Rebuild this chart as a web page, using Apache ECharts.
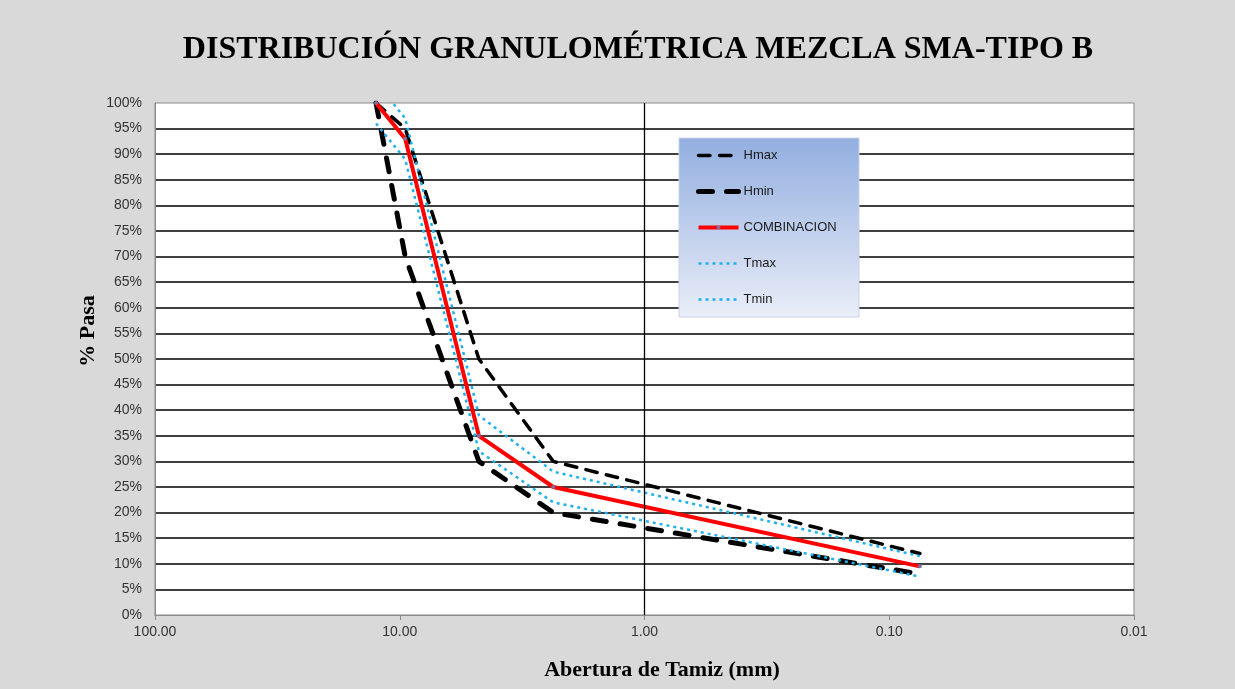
<!DOCTYPE html>
<html><head><meta charset="utf-8">
<script src="https://cdn.jsdelivr.net/npm/echarts@6/dist/echarts.min.js"></script>
<style>html,body{margin:0;padding:0;background:#d9d9d9}#c{width:1235px;height:689px}</style>
</head><body><div id="c"></div>
<script>
// Sieve openings (mm) and % passing
const sieves = [12.5, 9.5, 4.75, 2.36, 0.075];
const hmax = [100, 95, 50, 30, 12];
const hmin = [100, 70, 30, 20, 8];
const combinacion = [100, 93, 35, 25, 9.5];
const tmax = [104, 97, 39, 28, 11.5];
const tmin = [96, 89, 32, 22, 7.5];
const seriesNames = ['Hmax', 'Hmin', 'COMBINACION', 'Tmax', 'Tmin'];
const titleText = 'DISTRIBUCIÓN GRANULOMÉTRICA MEZCLA SMA-TIPO B';
const yName = '% Pasa';
const xName = 'Abertura de Tamiz (mm)';
const xCrossAt = 1;

const pts = ys => sieves.map((s, i) => [s, ys[i]]);
const serif = "'Liberation Serif','Times New Roman',serif";
const sans = "'Liberation Sans',Arial,sans-serif";
const blue = '#1fb0ee';

const chart = echarts.init(document.getElementById('c'));
chart.setOption({
  animation: false,
  backgroundColor: '#d9d9d9',
  grid: {left: 155, right: 101, top: 103, bottom: 74, show: true, backgroundColor: '#ffffff', borderColor: '#8a8a8a', borderWidth: 1},
  xAxis: {
    type: 'log', logBase: 10, min: 0.01, max: 100, inverse: true,
    axisLine: {show: true, lineStyle: {color: '#8a8a8a', width: 1}},
    axisTick: {show: true, length: 5, lineStyle: {color: '#8a8a8a'}},
    splitLine: {show: false}, minorTick: {show: false},
    axisLabel: {margin: 10, fontFamily: sans, fontSize: 14, color: '#333', formatter: v => Number(v).toFixed(2)}
  },
  yAxis: {
    type: 'value', min: 0, max: 100, interval: 5,
    axisLine: {show: true, lineStyle: {color: '#8a8a8a'}},
    axisTick: {show: false},
    splitLine: {show: true, showMinLine: false, showMaxLine: false, lineStyle: {color: '#000', width: 1.5}},
    axisLabel: {margin: 13, fontFamily: sans, fontSize: 14, color: '#333', formatter: '{value}%'}
  },
  legend: {
    orient: 'vertical', left: 696, top: 149, itemWidth: 40, itemHeight: 5, itemGap: 23,
    padding: 0, data: seriesNames,
    lineStyle: {width: 'inherit'},
    textStyle: {fontFamily: sans, fontSize: 13, color: '#1a1a1a'}
  },
  graphic: [
    {type: 'rect', z: 3, shape: {x: 679, y: 138, width: 180, height: 179},
     style: {fill: new echarts.graphic.LinearGradient(0, 0, 0, 1, [{offset: 0, color: '#92aee0'}, {offset: 1, color: '#eaeef8'}]), stroke: '#c8d2e6', lineWidth: 1}},
    {type: 'text', z: 5, x: 638, y: 50, style: {text: titleText, font: 'bold 32px ' + serif, fill: '#000', align: 'center', verticalAlign: 'middle'}},
    {type: 'text', z: 5, x: 88, y: 331, rotation: Math.PI / 2, style: {text: yName, font: 'bold 22px ' + serif, fill: '#000', align: 'center', verticalAlign: 'middle'}},
    {type: 'text', z: 5, x: 662, y: 670, style: {text: xName, font: 'bold 22px ' + serif, fill: '#000', align: 'center', verticalAlign: 'middle'}}
  ],
  series: [
    {name: 'Hmax', type: 'line', data: pts(hmax), symbol: 'none', itemStyle: {color: '#000', opacity: 0},
     lineStyle: {color: '#000', width: 3.5, type: [11.5, 9.5], cap: 'round'},
     markLine: {silent: true, symbol: ['none', 'none'], label: {show: false}, lineStyle: {color: '#000', width: 1.3, type: 'solid', opacity: 1}, data: [{xAxis: xCrossAt}]}},
    {name: 'Hmin', type: 'line', data: pts(hmin), symbol: 'none', itemStyle: {color: '#000', opacity: 0},
     lineStyle: {color: '#000', width: 5, type: [14, 14], cap: 'round'}},
    {name: 'COMBINACION', type: 'line', data: pts(combinacion), symbol: 'circle', symbolSize: 4,
     itemStyle: {color: '#7f6f9f'}, lineStyle: {color: '#ff0000', width: 4}},
    {name: 'Tmax', type: 'line', data: pts(tmax), symbol: 'none', itemStyle: {color: blue, opacity: 0},
     lineStyle: {color: blue, width: 2.5, type: [3, 4]}},
    {name: 'Tmin', type: 'line', data: pts(tmin), symbol: 'none', itemStyle: {color: blue, opacity: 0},
     lineStyle: {color: blue, width: 2.5, type: [3, 4]}}
  ]
});
</script></body></html>
